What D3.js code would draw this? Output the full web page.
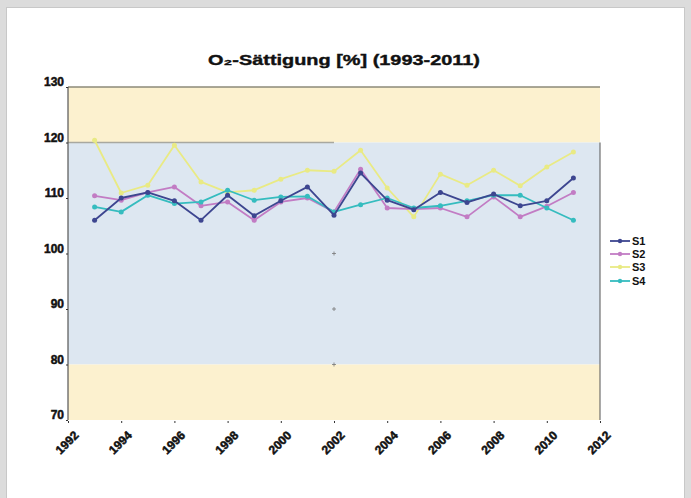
<!DOCTYPE html>
<html><head><meta charset="utf-8">
<script src="https://cdn.jsdelivr.net/npm/d3@7"></script>
<style>
html,body{margin:0;padding:0;background:#d9d9d9;}
svg{display:block;}
text{font-family:"Liberation Sans",Arial,sans-serif;}
</style></head>
<body>
<script>
const years = [1993,1994,1995,1996,1997,1998,1999,2000,2001,2002,2003,2004,2005,2006,2007,2008,2009,2010,2011];
const seriesNames = ["S1","S2","S3","S4"];
const s1 = [106.0,110.0,111.0,109.5,106.0,110.5,106.8,109.5,112.0,106.9,114.5,109.6,107.9,111.0,109.2,110.7,108.6,109.5,113.6];
const s2 = [110.4,109.6,111.0,112.0,108.6,109.3,106.0,109.3,110.0,107.5,115.2,108.2,108.0,108.2,106.6,110.2,106.6,108.5,111.0];
const s3 = [120.4,110.9,112.3,119.5,112.9,111.0,111.4,113.4,115.0,114.8,118.6,111.8,106.6,114.3,112.3,115.0,112.2,115.6,118.3];
const s4 = [108.4,107.5,110.5,109.0,109.3,111.4,109.6,110.2,110.3,107.5,108.8,110.0,108.2,108.6,109.5,110.5,110.5,108.2,106.0];
const colors = ["#3d4690","#c27cc4","#e9ea84","#35bcbf"];
const xTicks = [1992,1994,1996,1998,2000,2002,2004,2006,2008,2010,2012];
const yTicks = [70,80,90,100,110,120,130];
const bands = [[120,130,"#fcf1cf"],[80,120,"#dde7f1"],[70,80,"#fcf1cf"]];
const title = "O₂-Sättigung [%] (1993-2011)";

const W=691,H=498;
const svg=d3.select("body").append("svg").attr("width",W).attr("height",H);
svg.append("rect").attr("x",0).attr("y",0).attr("width",W).attr("height",H).attr("fill","#dcdcdc");
svg.append("rect").attr("x",6.5).attr("y",7.5).attr("width",678).attr("height",495).attr("fill","#fff").attr("stroke","#c8c8c8");

const x=d3.scaleLinear().domain([1992,2012]).range([68,600]);
const y=d3.scaleLinear().domain([70,130]).range([420,87]);

svg.selectAll("rect.band").data(bands).enter().append("rect")
 .attr("x",x(1992)).attr("width",x(2012)-x(1992))
 .attr("y",d=>y(d[1])).attr("height",d=>y(d[0])-y(d[1])).attr("fill",d=>d[2]);

svg.append("line").attr("x1",x(1992)).attr("x2",x(2012)).attr("y1",y(130)).attr("y2",y(130)).attr("stroke","#8c8a78").attr("stroke-width",1.5);
svg.append("line").attr("x1",x(1992)).attr("x2",x(2002)).attr("y1",y(120)).attr("y2",y(120)).attr("stroke","#a8a8a0").attr("stroke-width",1.5);
svg.append("line").attr("x1",x(2012)).attr("x2",x(2012)).attr("y1",y(120)).attr("y2",y(70)).attr("stroke","#555").attr("stroke-width",1);
svg.append("line").attr("x1",x(1992)).attr("x2",x(1992)).attr("y1",y(130)).attr("y2",y(70)).attr("stroke","#555").attr("stroke-width",1.2);

[80,90,100].forEach(v=>{
  svg.append("path").attr("d",`M${x(2002)-2},${y(v)}h4M${x(2002)},${y(v)-2}v4`).attr("stroke","#777").attr("stroke-width",0.8);
});

const yAxis=d3.axisLeft(y).tickValues(yTicks).tickSize(2).tickFormat(d3.format("d"));
const gy=svg.append("g").attr("transform",`translate(${x(1992)},0)`).call(yAxis);
gy.select(".domain").remove();
gy.selectAll("line").attr("stroke","#333");
gy.selectAll("text").attr("font-size",12).attr("font-weight","bold").attr("fill","#111")
  .attr("stroke","#111").attr("stroke-width",0.5).attr("dy","-0.1em").attr("x",-4);

const xAxis=d3.axisBottom(x).tickValues(xTicks).tickSize(2).tickFormat(d3.format("d"));
const gx=svg.append("g").attr("transform",`translate(0,${y(70)+1})`).call(xAxis);
gx.select(".domain").remove();
gx.selectAll("line").attr("stroke","#333");
gx.selectAll("text").attr("font-size",12).attr("font-weight","bold").attr("fill","#111")
  .attr("stroke","#111").attr("stroke-width",0.5)
  .attr("text-anchor","end").attr("y",0).attr("dy",0)
  .attr("transform","translate(11,15) rotate(-45)");

svg.append("text").attr("x",344).attr("y",65).attr("text-anchor","middle").attr("font-size",15).attr("font-weight","bold").attr("fill","#111")
  .attr("stroke","#111").attr("stroke-width",0.4)
  .attr("textLength",272).attr("lengthAdjust","spacingAndGlyphs").text(title);

const allSeries=[s1,s2,s3,s4];
const line=d3.line().x((d,i)=>x(years[i])).y(d=>y(d));
const order=[2,1,3,0];
order.forEach(k=>{
  const vals=allSeries[k];
  svg.append("path").datum(vals).attr("d",line).attr("fill","none").attr("stroke",colors[k]).attr("stroke-width",1.8).attr("stroke-linejoin","round");
  svg.selectAll(null).data(vals).enter().append("circle").attr("cx",(d,i)=>x(years[i])).attr("cy",d=>y(d)).attr("r",2.5).attr("fill",colors[k]);
});

const ly=[241,254,267,281];
seriesNames.forEach((n,k)=>{
  svg.append("line").attr("x1",610).attr("x2",630).attr("y1",ly[k]).attr("y2",ly[k]).attr("stroke",colors[k]).attr("stroke-width",1.8);
  svg.append("circle").attr("cx",620).attr("cy",ly[k]).attr("r",2.2).attr("fill",colors[k]);
  svg.append("text").attr("x",632).attr("y",ly[k]).attr("dy","0.35em").attr("font-size",11).attr("font-weight","bold").attr("fill","#111").text(n);
});
</script>
</body></html>
